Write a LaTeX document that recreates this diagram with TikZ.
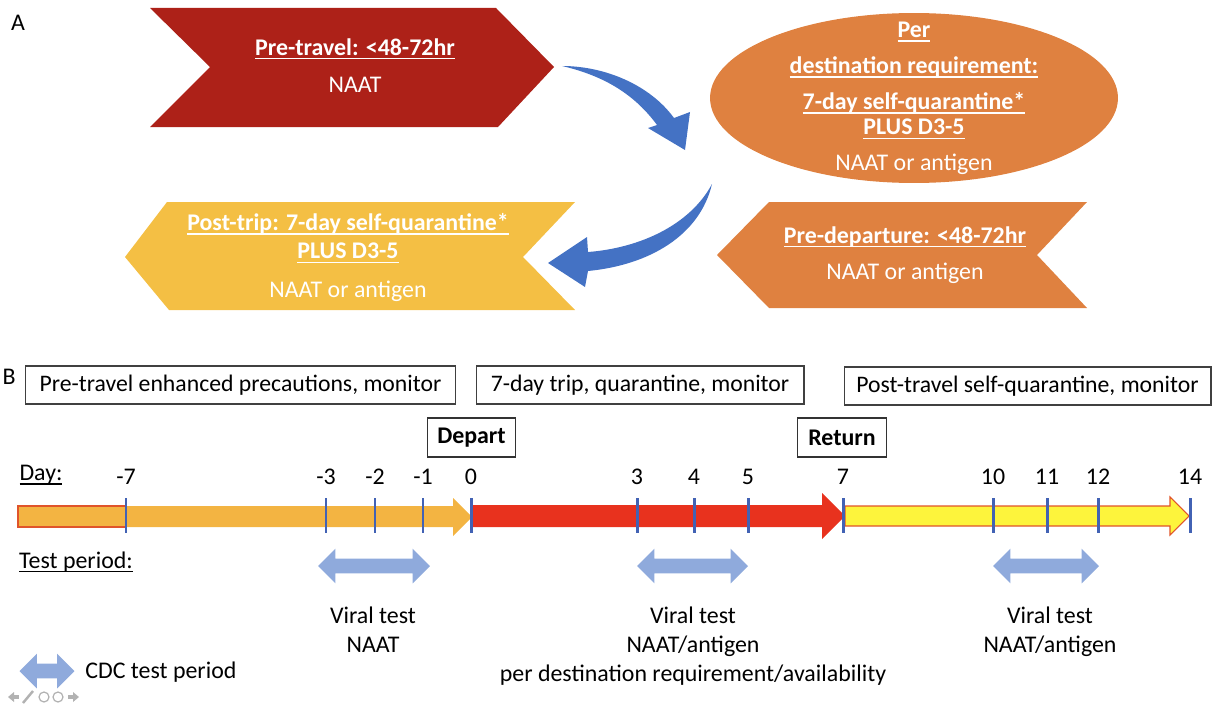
\documentclass[tikz,border=0pt]{standalone}
\usepackage{fontspec}
\setmainfont{Carlito}
\usetikzlibrary{shapes.geometric,shapes.arrows}

\definecolor{travelred}{HTML}{AD2118}
\definecolor{destorange}{HTML}{DF8140}
\definecolor{postgold}{HTML}{F4BF44}
\definecolor{curveblue}{HTML}{4472C4}
\definecolor{tickblue}{HTML}{4262B4}
\definecolor{periodblue}{HTML}{8FAADC}
\definecolor{barorange}{HTML}{F3B442}
\definecolor{tripred}{HTML}{E8321E}
\definecolor{postyellow}{HTML}{FDF43C}
\definecolor{edgered}{HTML}{E0542A}

% underline that runs at a fixed depth, like the slide's
\newcommand{\ulbox}[1]{\setbox0=\hbox{#1}\rlap{\rule[-2.4pt]{\wd0}{0.8pt}}\box0}

\tikzset{
  head/.style={font=\fontsize{13.6}{16}\selectfont\bfseries, text=white, inner sep=0pt},
  sub/.style={font=\fontsize{13.6}{16}\selectfont, text=white, inner sep=0pt},
  phase/.style={draw=black!75, line width=0.6pt, font=\fontsize{13.5}{16}\selectfont, minimum height=0.76cm, inner sep=0pt},
  event/.style={draw=black!80, line width=0.6pt, font=\fontsize{13.6}{16}\selectfont\bfseries, minimum width=1.77cm, minimum height=0.78cm, inner sep=0pt},
  daylabel/.style={font=\fontsize{13.6}{16}\selectfont, inner sep=0pt},
  daytick/.style={draw=tickblue, line width=1.7pt},
  period/.style={double arrow, fill=periodblue, draw=none, inner xsep=0pt, inner ysep=0.14cm, double arrow head extend=0.2cm},
  note/.style={font=\fontsize{13.6}{16.4}\selectfont, align=center, inner sep=0pt},
}

\begin{document}
\begin{tikzpicture}[x=0.02cm, y=-0.02cm]
  \useasboundingbox (0,0) rectangle (1213,706);

  %% part A
  \node[font=\fontsize{13.6}{16}\selectfont] (labA) at (18,23) {A};

  \fill[travelred] (150,8) -- (496,8) -- (554,67) -- (498,127) -- (150,127) -- (210,67) -- cycle;
  \node[head] (pretitle) at (355,49) {\ulbox{Pre-travel: <48-72hr}};
  \node[sub] (pretest) at (355,85) {NAAT};

  \node[ellipse, fill=destorange, minimum width=8.16cm, minimum height=3.4cm, inner sep=0pt] (dest) at (914,98) {};
  \node[head] (dest1) at (914,32) {\ulbox{Per}};
  \node[head] (dest2) at (914,67) {\ulbox{destination requirement:}};
  \node[head] (dest3) at (914,103) {\ulbox{7-day self-quarantine*}};
  \node[head] (dest4) at (914,129) {\ulbox{PLUS D3-5}};
  \node[sub] (desttest) at (914,164) {NAAT or antigen};

  \fill[destorange] (769,202) -- (1087,202) -- (1037,255) -- (1087,308) -- (769,308) -- (717,255) -- cycle;
  \node[head] (deptitle) at (905,237) {\ulbox{Pre-departure: <48-72hr}};
  \node[sub] (deptest) at (905,273) {NAAT or antigen};

  \fill[postgold] (167,202) -- (575,202) -- (523,257) -- (575,310) -- (169,310) -- (125,257) -- cycle;
  \node[head] (post1) at (348,224) {\ulbox{Post-trip: 7-day self-quarantine*}};
  \node[head] (post2) at (348,253) {\ulbox{PLUS D3-5}};
  \node[sub] (posttest) at (348,291) {NAAT or antigen};

  % curved arrows between the steps
  \fill[curveblue] (562,66) .. controls (605,66) and (650,85) .. (674,118) -- (690,112) -- (685,150) -- (648,128) -- (657,125) .. controls (635,95) and (605,76) .. cycle;
  \fill[curveblue] (712,184) .. controls (690,225) and (640,248) .. (588,252) -- (587,237) -- (548,263) -- (585,287) -- (588,271) .. controls (650,265) and (700,235) .. cycle;

  %% part B
  \node[font=\fontsize{13.6}{16}\selectfont, inner sep=0pt] (labB) at (9,377) {B};
  \node[phase, minimum width=8.62cm] (prephase) at (240.5,385) {Pre-travel enhanced precautions, monitor};
  \node[phase, minimum width=6.56cm] (tripphase) at (640,385) {7-day trip, quarantine, monitor};
  \node[phase, minimum width=7.34cm] (postphase) at (1027.5,386) {Post-travel self-quarantine, monitor};
  \node[event] (depart) at (471.5,437.5) {Depart};
  \node[event] (return) at (842,437.5) {Return};

  \node[daylabel] (day) at (41,475) {\ulbox{Day:}};

  \fill[barorange, draw=edgered, line width=0.6pt] (18,506) rectangle (126,527);
  \fill[barorange] (126,506) -- (453,506) -- (453,498) -- (472,517) -- (453,536) -- (453,527) -- (126,527) -- cycle;
  \fill[tripred] (472,505) -- (822,505) -- (822,493) -- (845,516) -- (822,539) -- (822,527) -- (472,527) -- cycle;
  \fill[postyellow, draw=edgered, line width=0.6pt] (845,506) -- (1170,506) -- (1170,497) -- (1189,516) -- (1170,535) -- (1170,526) -- (845,526) -- cycle;

  \foreach \x/\d [count=\i] in {126/-7, 326/-3, 375/-2, 423/-1, 471/0, 637/3, 694/4, 748/5, 843/7, 993/10, 1047/11, 1098/12, 1190/14} {
    \draw[daytick] (\x,498) -- (\x,533);
    \node[daylabel] (day\i) at (\x,477) {\d};
  }

  \node[daylabel] (testperiod) at (76,562) {\ulbox{Test period:}};
  \node[period, minimum height=2.24cm] (test1) at (374,566) {};
  \node[period, minimum height=2.22cm] (test2) at (692.5,566) {};
  \node[period, minimum height=2.12cm] (test3) at (1046,566) {};

  \node[note, anchor=north] (note1) at (373,607) {Viral test\\NAAT};
  \node[note, anchor=north] (note2) at (693,607) {Viral test\\NAAT/antigen\\per destination requirement/availability};
  \node[note, anchor=north] (note3) at (1050,607) {Viral test\\NAAT/antigen};

  \node[period, minimum height=1.1cm] (legend) at (47,671) {};
  \node[daylabel, anchor=west] (legendtext) at (85,672) {CDC test period};

  % slide controls in the corner
  \fill[gray!60] (8,697) -- (14,692) -- (14,702) -- cycle;
  \fill[gray!60] (14,695) rectangle (19,699);
  \draw[gray!60, line width=1.4pt] (23,703) -- (33,691);
  \draw[gray!60, line width=0.7pt] (44,697) circle (5);
  \draw[gray!60, line width=0.7pt] (58,697) circle (5);
  \fill[gray!60] (79,697) -- (73,692) -- (73,702) -- cycle;
  \fill[gray!60] (68,695) rectangle (73,699);
\end{tikzpicture}
\end{document}
